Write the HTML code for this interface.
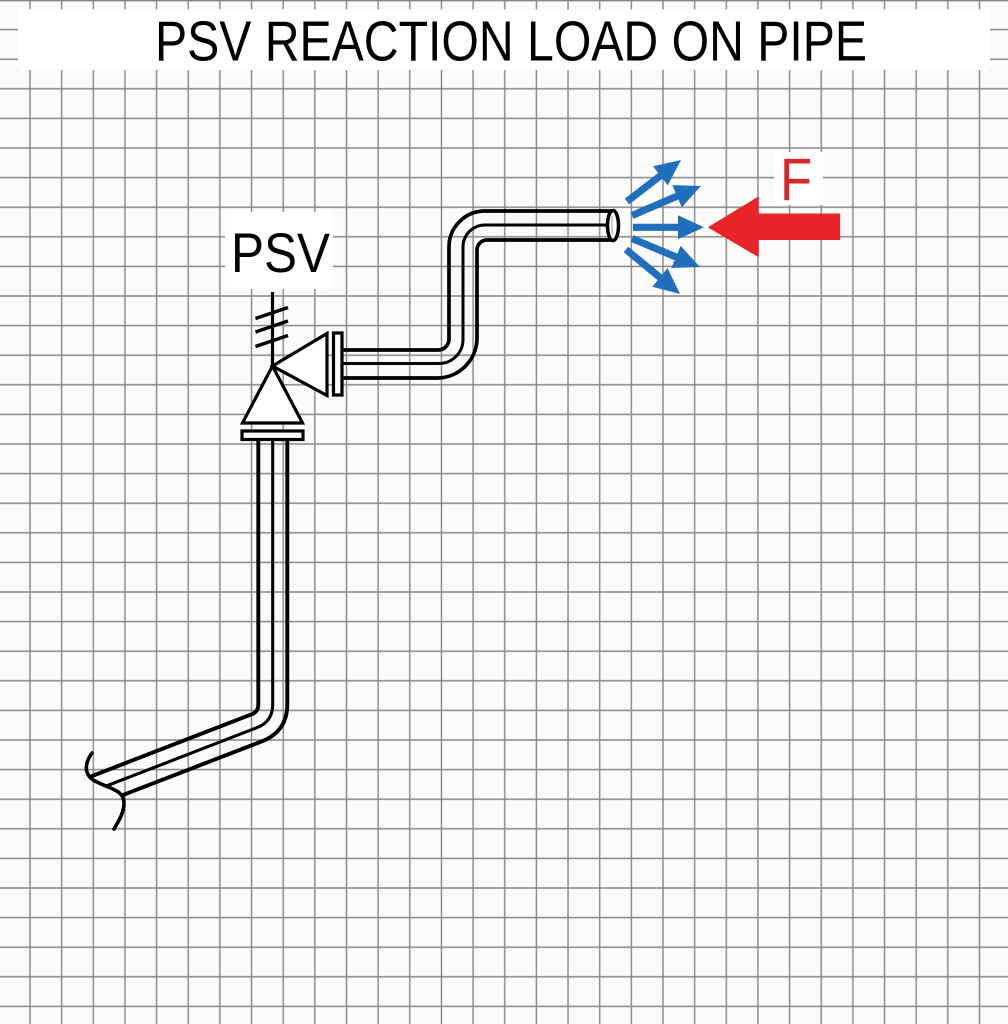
<!DOCTYPE html>
<html>
<head>
<meta charset="utf-8">
<style>
html,body{margin:0;padding:0;background:#fbfbf9;}
svg{display:block;}
</style>
</head>
<body>
<svg width="1008" height="1024" viewBox="0 0 1008 1024" xmlns="http://www.w3.org/2000/svg">
<defs>
<pattern id="grid" patternUnits="userSpaceOnUse" x="14.175" y="-14.8" width="31.65" height="29.6">
<line x1="15.825" y1="0" x2="15.825" y2="29.6" stroke="#858585" stroke-width="1.4"/>
<line x1="0" y1="14.8" x2="31.65" y2="14.8" stroke="#858585" stroke-width="1.4"/>
</pattern>
<marker id="bh" markerUnits="userSpaceOnUse" markerWidth="30" markerHeight="30" refX="0" refY="0" orient="auto" overflow="visible">
<path d="M-13,-12 L13,0 L-13,12 Z" fill="#1f6fbd"/>
</marker>
</defs>
<rect x="0" y="0" width="1008" height="1024" fill="#fbfbf9"/>
<rect x="0" y="0" width="1008" height="1024" fill="url(#grid)"/>
<line x1="0" y1="0.7" x2="1008" y2="0.7" stroke="#858585" stroke-width="1.4"/>
<rect x="18" y="9.5" width="972" height="60.5" fill="#ffffff"/>
<rect x="225" y="212" width="108" height="77" fill="#ffffff"/>
<rect x="774" y="152" width="49" height="53" fill="#ffffff"/>
<text x="155" y="60.7" font-family="'Liberation Sans', Arial, sans-serif" font-size="57" fill="#000" textLength="712" lengthAdjust="spacingAndGlyphs">PSV REACTION LOAD ON PIPE</text>
<text x="231" y="272" font-family="'Liberation Sans', Arial, sans-serif" font-size="56" fill="#000" textLength="99" lengthAdjust="spacingAndGlyphs">PSV</text>
<text x="780" y="200.7" font-family="'Liberation Sans', Arial, sans-serif" font-size="60" fill="#d9262a" textLength="32" lengthAdjust="spacingAndGlyphs">F</text>
<g fill="none" stroke="#000" stroke-linecap="butt" stroke-linejoin="round">
<path d="M258.3,440 L258.3,704.8 Q258.3,711.7 251.9,714.2 L90,776.8" stroke-width="3.9"/>
<path d="M272.7,440 L272.7,704.6 Q272.7,721.6 256.8,727.7 L105,786.5" stroke-width="3.1"/>
<path d="M287.3,440 L287.3,704.1 Q287.3,731.5 261.7,741.4 L121.7,795.5" stroke-width="3.9"/>
<path d="M92,753 C84,764 84,775 95,781 C110,789 124,790 124,803 C124,813 118,822 114,829" stroke-width="3.6" stroke-linecap="round"/>
</g>
<g fill="none" stroke="#000" stroke-linecap="butt">
<path d="M342,350 H438 A11,11 0 0 0 449,339 V247 A36,36 0 0 1 485,211 H613" stroke-width="3.7"/>
<path d="M342,363.5 H439 A24,24 0 0 0 463,339.5 V247 A22,22 0 0 1 485,225 H608" stroke-width="3"/>
<path d="M342,378 H437 A40,40 0 0 0 477,338 V250 A10,10 0 0 1 487,240 H613" stroke-width="3.7"/>
</g>
<ellipse cx="613" cy="225.5" rx="5.5" ry="15" fill="#ffffff" stroke="#000" stroke-width="3.5"/>
<line x1="612" y1="216" x2="612" y2="235" stroke="#bbbbbb" stroke-width="1.5"/>
<g stroke="#000" stroke-width="3.2" stroke-linejoin="miter" fill="#ffffff">
<line x1="272.5" y1="292" x2="272.5" y2="367"/>
<line x1="255.5" y1="318.5" x2="288" y2="307.5" stroke-width="3.4"/>
<line x1="255.5" y1="332" x2="288" y2="321" stroke-width="3.4"/>
<line x1="255.5" y1="346.5" x2="288" y2="335.5" stroke-width="3.4"/>
<polygon points="272.5,366 242.5,423 302.5,423"/>
<polygon points="272.5,366 327,333.5 327,395.5"/>
<rect x="242" y="431" width="61" height="8.5"/>
<rect x="333.5" y="333" width="8.5" height="62"/>
</g>
<g stroke="#1f6fbd" stroke-width="7.2" stroke-linecap="butt" fill="none">
<line x1="627" y1="201.5" x2="670.7" y2="167.9" marker-end="url(#bh)"/>
<line x1="632" y1="215.5" x2="689" y2="191.1" marker-end="url(#bh)"/>
<line x1="633" y1="227.3" x2="691" y2="227.3" marker-end="url(#bh)"/>
<line x1="632" y1="238.5" x2="688" y2="262" marker-end="url(#bh)"/>
<line x1="626" y1="249.5" x2="670" y2="285.7" marker-end="url(#bh)"/>
</g>
<polygon points="709.3,227.3 758,197.7 758,214.3 839.3,214.3 839.3,239.3 758,239.3 758,256" fill="#e8232a" stroke="#e8232a" stroke-width="1.5" stroke-linejoin="round"/>
</svg>
</body>
</html>
